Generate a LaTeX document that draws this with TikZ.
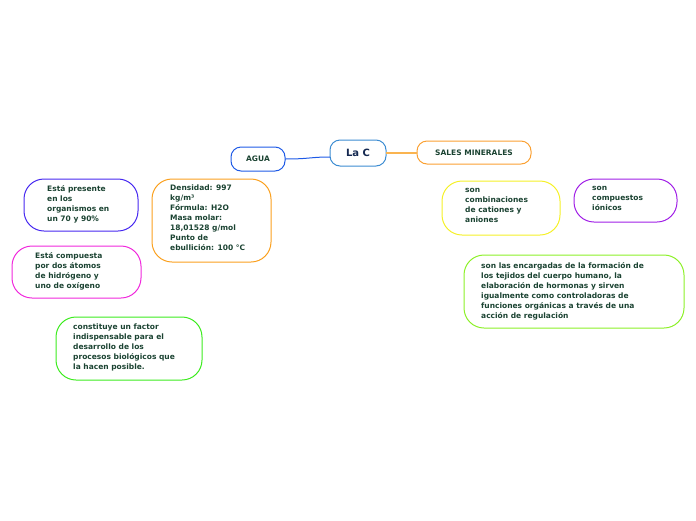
\documentclass[tikz,border=0pt]{standalone}
\usepackage{fontspec}
\setmainfont{DejaVu Sans}
\definecolor{txt}{HTML}{1B4332}
\begin{document}
\begin{tikzpicture}[x=1pt,y=-1pt,
  bx/.style={draw,line width=1pt,rounded corners=#1},
  tx/.style={anchor=north west,inner sep=0pt,align=left,text=txt,font=\bfseries\fontsize{7.5}{10}\selectfont},
  ct/.style={inner sep=0pt,text=txt,font=\bfseries\fontsize{7.5}{10}\selectfont}]
\useasboundingbox (0,0) rectangle (696,520);
% main
\draw[bx=10,draw={rgb,255:red,60;green,140;blue,210},fill=white] (330,140) rectangle (386,166);
\node[inner sep=0pt,text={rgb,255:red,20;green,40;blue,80},font=\bfseries\fontsize{10}{12}\selectfont] (lac) at (358,153) {La C};
\coordinate (lacW) at (330,157);
\coordinate (lacE) at (386,153);
\draw[bx=10,draw={rgb,255:red,30;green,90;blue,230}] (231,147) rectangle (285,171);
\node[ct] (agua) at (258,159) {AGUA};
\coordinate (aguaE) at (285,159);
\draw[bx=10,draw={rgb,255:red,250;green,160;blue,50}] (417,141) rectangle (531,164);
\node[ct] (sales) at (474,153) {SALES MINERALES};
\coordinate (salesW) at (417,153);
\draw[line width=1pt,draw={rgb,255:red,30;green,90;blue,230}] (aguaE) .. controls (310,159) and (310,157) .. (lacW);
\draw[line width=1.2pt,draw={rgb,255:red,250;green,180;blue,80}] (lacE) -- (salesW);
% left side
\draw[bx=20,draw={rgb,255:red,250;green,160;blue,30}] (152,179) rectangle (271,262);
\node[tx] (dens) at (170,185) {Densidad: 997\\kg/m³\\Fórmula: H2O\\Masa molar:\\18,01528 g/mol\\Punto de\\ebullición: 100 °C};
\draw[bx=20,draw={rgb,255:red,70;green,40;blue,240}] (24,179) rectangle (138,231);
\node[tx] (pres) at (47,185) {Está presente\\en los\\organismos en\\un 70 y 90\%};
\draw[bx=20,draw={rgb,255:red,240;green,40;blue,220}] (12,246) rectangle (141,298);
\node[tx] (comp) at (35,252) {Está compuesta\\por dos átomos\\de hidrógeno y\\uno de oxígeno};
\draw[bx=20,draw={rgb,255:red,60;green,235;blue,30}] (56,317) rectangle (202,380);
\node[tx] (cons) at (73,324) {constituye un factor\\indispensable para el\\desarrollo de los\\procesos biológicos que\\la hacen posible.};
% right side
\draw[bx=20,draw={rgb,255:red,245;green,240;blue,40}] (442,181) rectangle (560,235);
\node[tx] (comb) at (465,188) {son\\combinaciones\\de cationes y\\aniones};
\draw[bx=20,draw={rgb,255:red,160;green,30;blue,230}] (574,179) rectangle (677,222);
\node[tx] (ion) at (592,186) {son\\compuestos\\iónicos};
\draw[bx=20,draw={rgb,255:red,140;green,240;blue,40}] (464,255) rectangle (684,328);
\node[tx] (enc) at (481,262) {son las encargadas de la formación de\\los tejidos del cuerpo humano, la\\elaboración de hormonas y sirven\\igualmente como controladoras de\\funciones orgánicas a través de una\\acción de regulación};
\end{tikzpicture}
\end{document}
